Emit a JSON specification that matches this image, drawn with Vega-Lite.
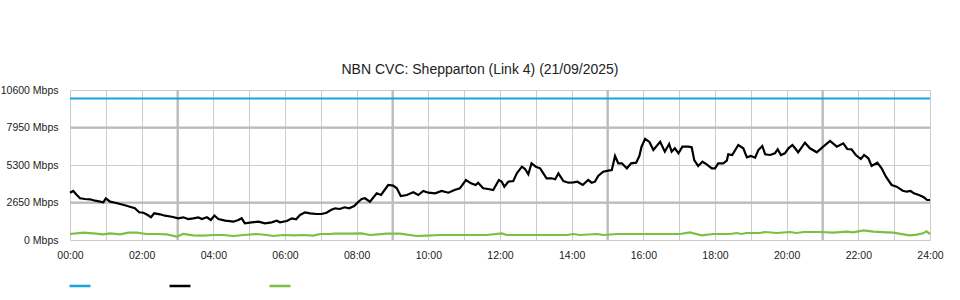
{
  "$schema": "https://vega.github.io/schema/vega-lite/v6.json",
  "width": 860,
  "height": 150,
  "autosize": {"type": "none"},
  "padding": {"left": 70, "top": 90, "right": 30, "bottom": 60},
  "background": "#ffffff",
  "config": {
    "font": "Liberation Sans",
    "view": {"stroke": null},
    "axis": {"labelFont": "Liberation Sans", "labelFontSize": 10.5, "labelColor": "#222222", "domain": false, "ticks": false, "grid": true, "gridColor": "#cccccc", "gridWidth": 1, "gridOpacity": 1, "labelOverlap": false, "labelFlush": false, "title": null}
  },
  "title": {"text": "NBN CVC: Shepparton (Link 4) (21/09/2025)", "font": "Liberation Sans", "fontSize": 14, "fontWeight": "normal", "color": "#222222", "anchor": "middle", "dx": -20, "offset": 8},
  "layer": [
    {
      "data": {"values": [{"t": 3}, {"t": 9}, {"t": 15}, {"t": 21}]},
      "mark": {"type": "rule", "color": "#bbbbbb", "strokeWidth": 2},
      "encoding": {"x": {"field": "t", "type": "quantitative", "scale": {"domain": [0, 24], "nice": false},
              "axis": {"values": [0,1,2,3,4,5,6,7,8,9,10,11,12,13,14,15,16,17,18,19,20,21,22,23,24], "labelPadding": 10, "labelExpr": "datum.value % 2 == 1 ? '' : ((datum.value < 10 ? '0' : '') + datum.value + ':00')"}}}
    },
    {
      "data": {"values": [{"v": 2650}, {"v": 7950}]},
      "mark": {"type": "rule", "color": "#bbbbbb", "strokeWidth": 2},
      "encoding": {"y": {"field": "v", "type": "quantitative", "scale": {"domain": [0, 10600], "nice": false},
              "axis": {"values": [0, 2650, 5300, 7950, 10600], "format": "d", "labelExpr": "datum.label + ' Mbps'", "labelPadding": 12}}}
    },
    {
      "data": {"values": [
        {"s": "Capacity", "t": 0, "v": 10000}, {"s": "Capacity", "t": 6, "v": 10000}, {"s": "Capacity", "t": 12, "v": 10000}, {"s": "Capacity", "t": 18, "v": 10000}, {"s": "Capacity", "t": 24, "v": 10000},
        {"s": "Down", "t": 0.00, "v": 3343}, {"s": "Down", "t": 0.09, "v": 3463}, {"s": "Down", "t": 0.19, "v": 3180}, {"s": "Down", "t": 0.28, "v": 2947}, {"s": "Down", "t": 0.42, "v": 2897}, {"s": "Down", "t": 0.56, "v": 2876}, {"s": "Down", "t": 0.70, "v": 2777}, {"s": "Down", "t": 0.84, "v": 2707}, {"s": "Down", "t": 0.93, "v": 2664}, {"s": "Down", "t": 1.00, "v": 2947}, {"s": "Down", "t": 1.12, "v": 2707}, {"s": "Down", "t": 1.26, "v": 2636}, {"s": "Down", "t": 1.40, "v": 2544}, {"s": "Down", "t": 1.53, "v": 2452}, {"s": "Down", "t": 1.67, "v": 2353}, {"s": "Down", "t": 1.81, "v": 2240}, {"s": "Down", "t": 1.93, "v": 1957}, {"s": "Down", "t": 2.05, "v": 1929}, {"s": "Down", "t": 2.17, "v": 1767}, {"s": "Down", "t": 2.26, "v": 1604}, {"s": "Down", "t": 2.35, "v": 1887}, {"s": "Down", "t": 2.51, "v": 1816}, {"s": "Down", "t": 2.65, "v": 1717}, {"s": "Down", "t": 2.84, "v": 1646}, {"s": "Down", "t": 3.02, "v": 1533}, {"s": "Down", "t": 3.16, "v": 1604}, {"s": "Down", "t": 3.30, "v": 1484}, {"s": "Down", "t": 3.44, "v": 1533}, {"s": "Down", "t": 3.58, "v": 1604}, {"s": "Down", "t": 3.68, "v": 1484}, {"s": "Down", "t": 3.82, "v": 1604}, {"s": "Down", "t": 3.93, "v": 1413}, {"s": "Down", "t": 4.03, "v": 1730}, {"s": "Down", "t": 4.14, "v": 1484}, {"s": "Down", "t": 4.33, "v": 1366}, {"s": "Down", "t": 4.56, "v": 1295}, {"s": "Down", "t": 4.70, "v": 1413}, {"s": "Down", "t": 4.79, "v": 1533}, {"s": "Down", "t": 4.88, "v": 1178}, {"s": "Down", "t": 5.07, "v": 1248}, {"s": "Down", "t": 5.26, "v": 1295}, {"s": "Down", "t": 5.44, "v": 1178}, {"s": "Down", "t": 5.63, "v": 1248}, {"s": "Down", "t": 5.77, "v": 1366}, {"s": "Down", "t": 5.86, "v": 1248}, {"s": "Down", "t": 6.05, "v": 1343}, {"s": "Down", "t": 6.19, "v": 1533}, {"s": "Down", "t": 6.31, "v": 1460}, {"s": "Down", "t": 6.42, "v": 1767}, {"s": "Down", "t": 6.56, "v": 1957}, {"s": "Down", "t": 6.70, "v": 1887}, {"s": "Down", "t": 6.88, "v": 1837}, {"s": "Down", "t": 7.02, "v": 1837}, {"s": "Down", "t": 7.16, "v": 1929}, {"s": "Down", "t": 7.28, "v": 2120}, {"s": "Down", "t": 7.40, "v": 2240}, {"s": "Down", "t": 7.53, "v": 2191}, {"s": "Down", "t": 7.66, "v": 2311}, {"s": "Down", "t": 7.79, "v": 2240}, {"s": "Down", "t": 7.93, "v": 2403}, {"s": "Down", "t": 8.05, "v": 2707}, {"s": "Down", "t": 8.14, "v": 2897}, {"s": "Down", "t": 8.23, "v": 2947}, {"s": "Down", "t": 8.37, "v": 2707}, {"s": "Down", "t": 8.56, "v": 3300}, {"s": "Down", "t": 8.68, "v": 3180}, {"s": "Down", "t": 8.88, "v": 3887}, {"s": "Down", "t": 9.02, "v": 3840}, {"s": "Down", "t": 9.12, "v": 3653}, {"s": "Down", "t": 9.23, "v": 3109}, {"s": "Down", "t": 9.40, "v": 3180}, {"s": "Down", "t": 9.58, "v": 3371}, {"s": "Down", "t": 9.72, "v": 3180}, {"s": "Down", "t": 9.86, "v": 3463}, {"s": "Down", "t": 10.00, "v": 3343}, {"s": "Down", "t": 10.19, "v": 3300}, {"s": "Down", "t": 10.37, "v": 3463}, {"s": "Down", "t": 10.56, "v": 3343}, {"s": "Down", "t": 10.73, "v": 3533}, {"s": "Down", "t": 10.88, "v": 3653}, {"s": "Down", "t": 11.05, "v": 4240}, {"s": "Down", "t": 11.19, "v": 4007}, {"s": "Down", "t": 11.32, "v": 3887}, {"s": "Down", "t": 11.39, "v": 4049}, {"s": "Down", "t": 11.53, "v": 3653}, {"s": "Down", "t": 11.67, "v": 3604}, {"s": "Down", "t": 11.81, "v": 3533}, {"s": "Down", "t": 11.97, "v": 4240}, {"s": "Down", "t": 12.05, "v": 4120}, {"s": "Down", "t": 12.12, "v": 3767}, {"s": "Down", "t": 12.23, "v": 4120}, {"s": "Down", "t": 12.37, "v": 4169}, {"s": "Down", "t": 12.47, "v": 4713}, {"s": "Down", "t": 12.61, "v": 5180}, {"s": "Down", "t": 12.70, "v": 5017}, {"s": "Down", "t": 12.79, "v": 4643}, {"s": "Down", "t": 12.88, "v": 5420}, {"s": "Down", "t": 13.00, "v": 5180}, {"s": "Down", "t": 13.12, "v": 5067}, {"s": "Down", "t": 13.30, "v": 4360}, {"s": "Down", "t": 13.44, "v": 4360}, {"s": "Down", "t": 13.54, "v": 4290}, {"s": "Down", "t": 13.63, "v": 4713}, {"s": "Down", "t": 13.77, "v": 4169}, {"s": "Down", "t": 13.91, "v": 4049}, {"s": "Down", "t": 14.05, "v": 4078}, {"s": "Down", "t": 14.16, "v": 4120}, {"s": "Down", "t": 14.31, "v": 3887}, {"s": "Down", "t": 14.46, "v": 4240}, {"s": "Down", "t": 14.56, "v": 4049}, {"s": "Down", "t": 14.65, "v": 4120}, {"s": "Down", "t": 14.74, "v": 4523}, {"s": "Down", "t": 14.88, "v": 4827}, {"s": "Down", "t": 15.02, "v": 4898}, {"s": "Down", "t": 15.12, "v": 4947}, {"s": "Down", "t": 15.21, "v": 5936}, {"s": "Down", "t": 15.30, "v": 5420}, {"s": "Down", "t": 15.40, "v": 5420}, {"s": "Down", "t": 15.54, "v": 5067}, {"s": "Down", "t": 15.66, "v": 5420}, {"s": "Down", "t": 15.80, "v": 5463}, {"s": "Down", "t": 15.89, "v": 5936}, {"s": "Down", "t": 15.95, "v": 6593}, {"s": "Down", "t": 16.05, "v": 7150}, {"s": "Down", "t": 16.17, "v": 6930}, {"s": "Down", "t": 16.28, "v": 6360}, {"s": "Down", "t": 16.47, "v": 6947}, {"s": "Down", "t": 16.60, "v": 6240}, {"s": "Down", "t": 16.72, "v": 6784}, {"s": "Down", "t": 16.79, "v": 6240}, {"s": "Down", "t": 16.88, "v": 6480}, {"s": "Down", "t": 16.98, "v": 6127}, {"s": "Down", "t": 17.09, "v": 6593}, {"s": "Down", "t": 17.26, "v": 6593}, {"s": "Down", "t": 17.35, "v": 6551}, {"s": "Down", "t": 17.42, "v": 5653}, {"s": "Down", "t": 17.53, "v": 5229}, {"s": "Down", "t": 17.65, "v": 5533}, {"s": "Down", "t": 17.77, "v": 5350}, {"s": "Down", "t": 17.91, "v": 5067}, {"s": "Down", "t": 18.00, "v": 5067}, {"s": "Down", "t": 18.09, "v": 5420}, {"s": "Down", "t": 18.23, "v": 5420}, {"s": "Down", "t": 18.33, "v": 5604}, {"s": "Down", "t": 18.37, "v": 6056}, {"s": "Down", "t": 18.48, "v": 6007}, {"s": "Down", "t": 18.65, "v": 6713}, {"s": "Down", "t": 18.79, "v": 6480}, {"s": "Down", "t": 18.89, "v": 5844}, {"s": "Down", "t": 19.00, "v": 5936}, {"s": "Down", "t": 19.12, "v": 5816}, {"s": "Down", "t": 19.21, "v": 6360}, {"s": "Down", "t": 19.32, "v": 6643}, {"s": "Down", "t": 19.40, "v": 6056}, {"s": "Down", "t": 19.54, "v": 6007}, {"s": "Down", "t": 19.67, "v": 6127}, {"s": "Down", "t": 19.75, "v": 6410}, {"s": "Down", "t": 19.84, "v": 6007}, {"s": "Down", "t": 19.95, "v": 6127}, {"s": "Down", "t": 20.05, "v": 6480}, {"s": "Down", "t": 20.16, "v": 6713}, {"s": "Down", "t": 20.23, "v": 6500}, {"s": "Down", "t": 20.32, "v": 6198}, {"s": "Down", "t": 20.51, "v": 6876}, {"s": "Down", "t": 20.65, "v": 6480}, {"s": "Down", "t": 20.84, "v": 6198}, {"s": "Down", "t": 21.02, "v": 6593}, {"s": "Down", "t": 21.21, "v": 6996}, {"s": "Down", "t": 21.40, "v": 6593}, {"s": "Down", "t": 21.58, "v": 6833}, {"s": "Down", "t": 21.69, "v": 6431}, {"s": "Down", "t": 21.81, "v": 6410}, {"s": "Down", "t": 21.93, "v": 6007}, {"s": "Down", "t": 22.07, "v": 5724}, {"s": "Down", "t": 22.16, "v": 6007}, {"s": "Down", "t": 22.28, "v": 5774}, {"s": "Down", "t": 22.37, "v": 5229}, {"s": "Down", "t": 22.53, "v": 5463}, {"s": "Down", "t": 22.65, "v": 5067}, {"s": "Down", "t": 22.77, "v": 4473}, {"s": "Down", "t": 22.93, "v": 3887}, {"s": "Down", "t": 23.07, "v": 3767}, {"s": "Down", "t": 23.24, "v": 3484}, {"s": "Down", "t": 23.35, "v": 3413}, {"s": "Down", "t": 23.46, "v": 3463}, {"s": "Down", "t": 23.55, "v": 3300}, {"s": "Down", "t": 23.69, "v": 3180}, {"s": "Down", "t": 23.83, "v": 3017}, {"s": "Down", "t": 23.92, "v": 2827}, {"s": "Down", "t": 24.00, "v": 2827},
        {"s": "Up", "t": 0.00, "v": 424}, {"s": "Up", "t": 0.37, "v": 518}, {"s": "Up", "t": 0.65, "v": 471}, {"s": "Up", "t": 0.93, "v": 400}, {"s": "Up", "t": 1.12, "v": 471}, {"s": "Up", "t": 1.40, "v": 400}, {"s": "Up", "t": 1.63, "v": 518}, {"s": "Up", "t": 1.86, "v": 518}, {"s": "Up", "t": 2.14, "v": 424}, {"s": "Up", "t": 2.42, "v": 424}, {"s": "Up", "t": 2.70, "v": 400}, {"s": "Up", "t": 2.98, "v": 235}, {"s": "Up", "t": 3.16, "v": 424}, {"s": "Up", "t": 3.44, "v": 330}, {"s": "Up", "t": 3.72, "v": 306}, {"s": "Up", "t": 4.00, "v": 353}, {"s": "Up", "t": 4.28, "v": 353}, {"s": "Up", "t": 4.56, "v": 283}, {"s": "Up", "t": 4.84, "v": 353}, {"s": "Up", "t": 5.21, "v": 424}, {"s": "Up", "t": 5.49, "v": 353}, {"s": "Up", "t": 5.67, "v": 283}, {"s": "Up", "t": 5.95, "v": 353}, {"s": "Up", "t": 6.23, "v": 330}, {"s": "Up", "t": 6.51, "v": 353}, {"s": "Up", "t": 6.79, "v": 306}, {"s": "Up", "t": 6.98, "v": 424}, {"s": "Up", "t": 7.26, "v": 424}, {"s": "Up", "t": 7.35, "v": 447}, {"s": "Up", "t": 7.72, "v": 447}, {"s": "Up", "t": 8.14, "v": 471}, {"s": "Up", "t": 8.37, "v": 353}, {"s": "Up", "t": 8.60, "v": 400}, {"s": "Up", "t": 8.84, "v": 447}, {"s": "Up", "t": 9.21, "v": 447}, {"s": "Up", "t": 9.68, "v": 283}, {"s": "Up", "t": 9.95, "v": 306}, {"s": "Up", "t": 10.33, "v": 353}, {"s": "Up", "t": 11.07, "v": 353}, {"s": "Up", "t": 11.63, "v": 353}, {"s": "Up", "t": 12.05, "v": 471}, {"s": "Up", "t": 12.19, "v": 353}, {"s": "Up", "t": 12.93, "v": 353}, {"s": "Up", "t": 13.86, "v": 353}, {"s": "Up", "t": 14.05, "v": 424}, {"s": "Up", "t": 14.23, "v": 353}, {"s": "Up", "t": 14.70, "v": 424}, {"s": "Up", "t": 14.88, "v": 353}, {"s": "Up", "t": 15.26, "v": 424}, {"s": "Up", "t": 15.63, "v": 424}, {"s": "Up", "t": 16.28, "v": 424}, {"s": "Up", "t": 17.02, "v": 424}, {"s": "Up", "t": 17.30, "v": 541}, {"s": "Up", "t": 17.63, "v": 330}, {"s": "Up", "t": 17.95, "v": 424}, {"s": "Up", "t": 18.42, "v": 424}, {"s": "Up", "t": 18.61, "v": 495}, {"s": "Up", "t": 18.74, "v": 424}, {"s": "Up", "t": 18.88, "v": 495}, {"s": "Up", "t": 19.26, "v": 495}, {"s": "Up", "t": 19.40, "v": 565}, {"s": "Up", "t": 19.72, "v": 495}, {"s": "Up", "t": 20.09, "v": 565}, {"s": "Up", "t": 20.28, "v": 495}, {"s": "Up", "t": 20.47, "v": 565}, {"s": "Up", "t": 20.93, "v": 565}, {"s": "Up", "t": 21.30, "v": 518}, {"s": "Up", "t": 21.67, "v": 588}, {"s": "Up", "t": 21.86, "v": 541}, {"s": "Up", "t": 22.14, "v": 683}, {"s": "Up", "t": 22.42, "v": 588}, {"s": "Up", "t": 22.79, "v": 541}, {"s": "Up", "t": 22.98, "v": 518}, {"s": "Up", "t": 23.26, "v": 400}, {"s": "Up", "t": 23.44, "v": 330}, {"s": "Up", "t": 23.63, "v": 377}, {"s": "Up", "t": 23.81, "v": 471}, {"s": "Up", "t": 23.90, "v": 612}, {"s": "Up", "t": 24.00, "v": 424}
      ]},
      "mark": {"type": "line", "strokeWidth": 2.2, "interpolate": "linear"},
      "encoding": {
        "x": {"field": "t", "type": "quantitative", "scale": {"domain": [0, 24], "nice": false},
              "axis": {"values": [0,1,2,3,4,5,6,7,8,9,10,11,12,13,14,15,16,17,18,19,20,21,22,23,24], "labelPadding": 10, "labelExpr": "datum.value % 2 == 1 ? '' : ((datum.value < 10 ? '0' : '') + datum.value + ':00')"}},
        "y": {"field": "v", "type": "quantitative", "scale": {"domain": [0, 10600], "nice": false},
              "axis": {"values": [0, 2650, 5300, 7950, 10600], "format": "d", "labelExpr": "datum.label + ' Mbps'", "labelPadding": 12}},
        "color": {"field": "s", "type": "nominal", "scale": {"domain": ["Capacity", "Down", "Up"], "range": ["#1ba1e2", "#000000", "#7ac143"]},
                  "legend": {"title": null, "orient": "none", "legendX": -2, "legendY": 184, "direction": "horizontal", "symbolType": "stroke", "symbolSize": 441, "symbolStrokeWidth": 2.5, "labelExpr": "''", "labelOffset": 0, "columnPadding": 68, "padding": 0}}
      }
    }
  ]
}
